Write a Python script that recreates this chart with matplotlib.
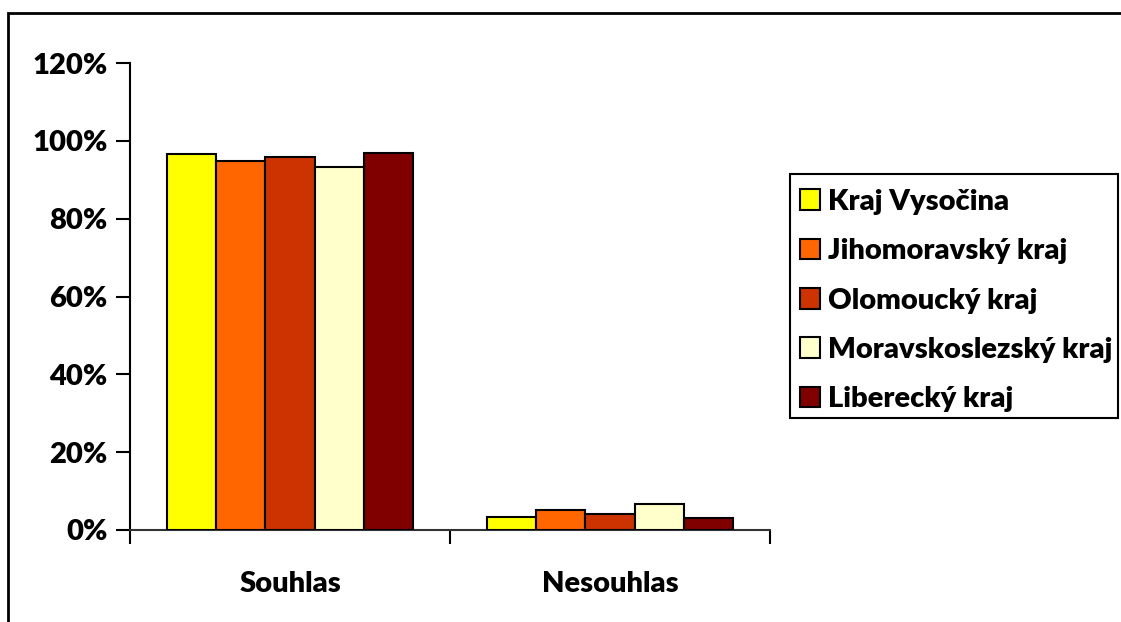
import matplotlib
matplotlib.use("Agg")
import matplotlib.pyplot as plt
import matplotlib.patches as mpatches
import numpy as np

# data
categories = ['Souhlas', 'Nesouhlas']
regions = ['Kraj Vysočina', 'Jihomoravský kraj', 'Olomoucký kraj',
           'Moravskoslezský kraj', 'Liberecký kraj']
souhlas = [96.6, 94.8, 95.8, 93.4, 96.8]
nesouhlas = [3.4, 5.2, 4.2, 6.6, 3.2]
colors = ['#FFFF00', '#FF6600', '#CC3300', '#FFFFCC', '#800000']
yticks = [0, 20, 40, 60, 80, 100, 120]

W, H = 1121, 622
fig = plt.figure(figsize=(W / 100, H / 100), dpi=100)
plt.rcParams['font.family'] = ['Lato', 'DejaVu Sans']
FS = 21
WT = 'heavy'

# outer chart frame
fig.patches.append(mpatches.Rectangle((8 / W, -0.05), 1.2, 1 - 13 / H + 0.05,
                                      transform=fig.transFigure, fill=False,
                                      edgecolor='black', lw=2))

# plot area in pixels
x0, x1, y0, y1 = 130, 770, 63, 530
ax = fig.add_axes([x0 / W, 1 - y1 / H, (x1 - x0) / W, (y1 - y0) / H])

values = np.array([souhlas, nesouhlas])  # shape (cat, series)
n = len(regions)
bw = 1 / 6.5
x = np.arange(len(categories))
for i in range(n):
    pos = x + (i - (n - 1) / 2) * bw
    ax.bar(pos, values[:, i], width=bw, color=colors[i], edgecolor='black',
           linewidth=1.5, label=regions[i], zorder=3)

ax.set_xlim(-0.5, len(categories) - 0.5)
ax.set_ylim(0, 120)
ax.set_yticks(yticks)
ax.set_yticklabels([f'{v}%' for v in yticks], fontsize=FS, fontweight=WT)
ax.set_xticks([-0.5, 0.5, 1.5])
ax.set_xticklabels([])
ax.tick_params(axis='y', length=10, width=1.5, pad=6)
ax.tick_params(axis='x', length=10, width=1.5, direction='out')
for cx, c in zip(x, categories):
    ax.text(cx, -0.115, c, transform=ax.get_xaxis_transform(), ha='center',
            va='center', fontsize=FS, fontweight=WT)

ax.spines['top'].set_visible(False)
ax.spines['right'].set_visible(False)
ax.spines['left'].set_linewidth(1.5)
ax.spines['bottom'].set_linewidth(1.5)
ax.spines['bottom'].set_color('#333333')

# legend box drawn separately so its right edge sits at the image border
fig.patches.append(mpatches.Rectangle((790 / W, 1 - 418 / H), (1118 - 790) / W,
                                      (418 - 174) / H, transform=fig.transFigure,
                                      fill=False, edgecolor='black', lw=1.5))
handles, labels = ax.get_legend_handles_labels()
leg = fig.legend(handles, labels, loc='upper left',
                 bbox_to_anchor=(797 / W, 1 - 186 / H),
                 prop={'family': ['Lato', 'DejaVu Sans'], 'weight': WT, 'size': FS},
                 handlelength=0.7, handleheight=0.7, handletextpad=0.25,
                 labelspacing=0.8, borderpad=0.1, borderaxespad=0,
                 frameon=False)

fig.savefig('out.png', dpi=100)
